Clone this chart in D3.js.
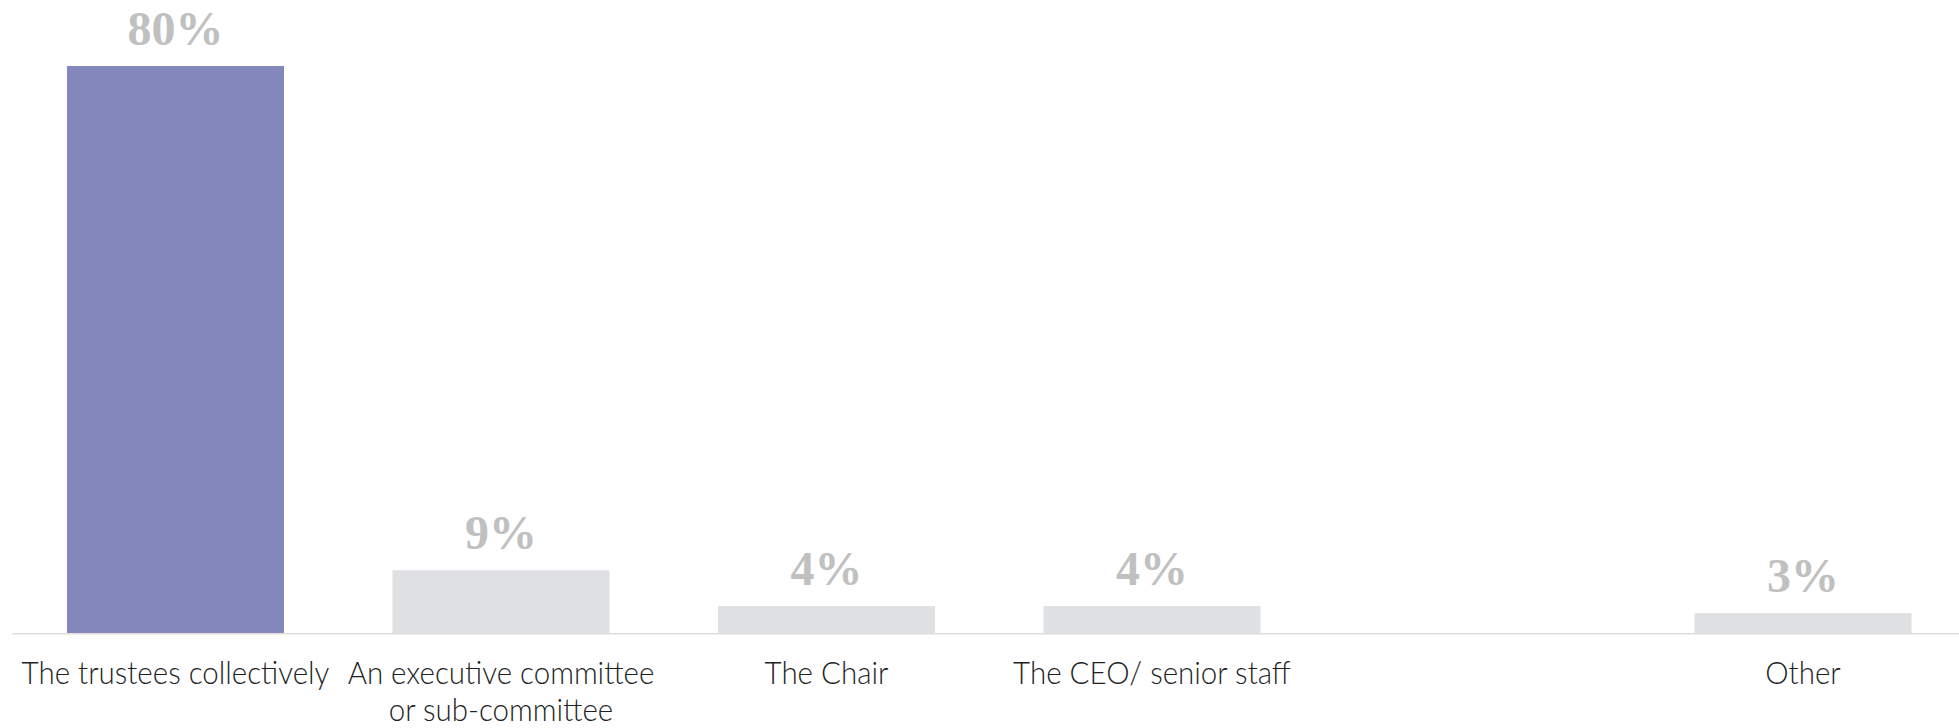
<!DOCTYPE html>
<html>
<head>
<meta charset="utf-8">
<script src="https://cdn.jsdelivr.net/npm/d3@7"></script>
<style>
  html, body { margin: 0; padding: 0; background: #ffffff; }
  svg { display: block; }
</style>
</head>
<body>
<svg id="chart" width="1959" height="728"></svg>
<script>
// ---- data ----
const categories = ["The trustees collectively", "An executive committee or sub-committee", "The Chair", "The CEO/ senior staff", "", "Other"];
const values = [80, 8.85, 3.8, 3.8, null, 2.8];
const valueLabels = ["80%", "9%", "4%", "4%", "", "3%"];
const highlightIndex = 0;

// ---- layout ----
const W = 1959, H = 728;
const baseY = 633;
const svg = d3.select("#chart");

const keys = categories.map((c, i) => "k" + i);
const x = d3.scaleBand()
  .domain(keys)
  .range([12.75, 1965.75])
  .paddingInner(1/3)
  .paddingOuter(1/6);

const y = d3.scaleLinear().domain([0, 80]).range([baseY, 66]);

// axis baseline
const xAxis = d3.axisBottom(x).tickSize(0).tickFormat(() => "");
const axisG = svg.append("g").attr("transform", `translate(0,${baseY + 0.75})`).call(xAxis);
axisG.select(".domain").remove();
axisG.append("line")
  .attr("x1", 12.5).attr("x2", W)
  .attr("y1", 0).attr("y2", 0)
  .attr("stroke", "#e2ddd9").attr("stroke-width", 1.5);

const data = categories.map((c, i) => ({ key: keys[i], cat: c, v: values[i], lab: valueLabels[i], i }));

// bars
svg.append("g").selectAll("rect")
  .data(data.filter(d => d.v != null))
  .join("rect")
  .attr("x", d => x(d.key))
  .attr("width", x.bandwidth())
  .attr("y", d => y(d.v))
  .attr("height", d => baseY - y(d.v))
  .attr("fill", d => d.i === highlightIndex ? "#8487bb" : "#dfe0e2");

// value labels
svg.append("g").selectAll("text")
  .data(data.filter(d => d.v != null))
  .join("text")
  .attr("x", d => x(d.key) + x.bandwidth() / 2)
  .attr("y", d => y(d.v) - 21)
  .attr("text-anchor", "middle")
  .attr("font-family", "'Liberation Serif', 'DejaVu Serif', serif")
  .attr("font-weight", "bold")
  .attr("font-size", 48)
  .attr("fill", "#c0c0c0")
  .text(d => d.lab);

// category labels: condensed to mimic a narrow light face, wrapped to band step
const labelFont = "Lato, 'Open Sans', sans-serif";
const fontSize = 31;
const probe = svg.append("text")
  .attr("font-family", labelFont).attr("font-weight", 300).attr("font-size", fontSize)
  .text(categories[0]);
const probeW = probe.node().getComputedTextLength();
probe.remove();
const sx = Math.min(1, 308 / probeW);

const catG = svg.append("g");
data.forEach(d => {
  if (!d.cat) return;
  const cx = x(d.key) + x.bandwidth() / 2;
  const t = catG.append("text")
    .attr("transform", `translate(${cx},${baseY + 51}) scale(${sx},1)`)
    .attr("x", 0).attr("y", 0)
    .attr("text-anchor", "middle")
    .attr("font-family", labelFont)
    .attr("font-weight", 300)
    .attr("font-size", fontSize)
    .attr("fill", "#231f1f");
  const words = d.cat.split(" ");
  const maxW = (x.step() - 6) / sx;
  let line = [];
  let tspan = t.append("tspan").attr("x", 0).attr("dy", 0);
  words.forEach(w => {
    line.push(w);
    tspan.text(line.join(" "));
    if (tspan.node().getComputedTextLength() > maxW && line.length > 1) {
      line.pop();
      tspan.text(line.join(" "));
      line = [w];
      tspan = t.append("tspan").attr("x", 0).attr("dy", 37.5).text(w);
    }
  });
});
</script>
</body>
</html>
